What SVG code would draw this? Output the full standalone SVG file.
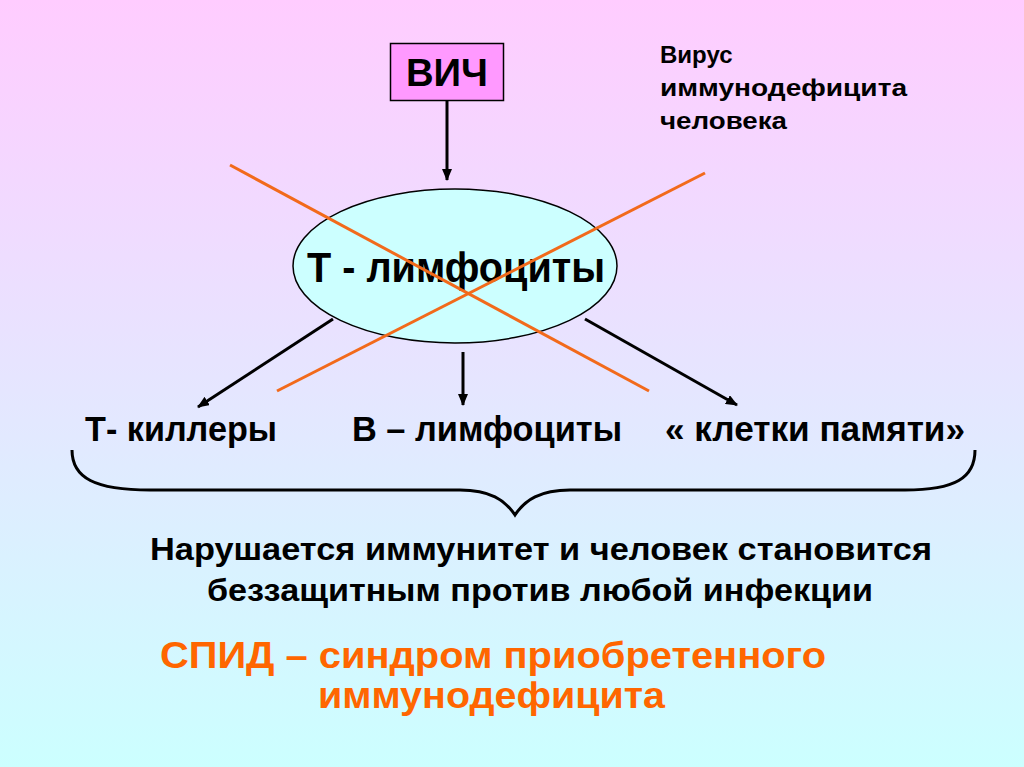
<svg xmlns="http://www.w3.org/2000/svg" width="1024" height="767" viewBox="0 0 1024 767">
<defs>
<linearGradient id="bg" x1="0" y1="0" x2="0" y2="1">
<stop offset="0" stop-color="#FFCCFF"/>
<stop offset="1" stop-color="#CCFFFF"/>
</linearGradient>
<marker id="ah" viewBox="0 0 12 10" refX="11" refY="5" markerWidth="12" markerHeight="10" markerUnits="userSpaceOnUse" orient="auto">
<path d="M0,0 L12,5 L0,10 Z" fill="#000"/>
</marker>
<style>
.t{font-family:"Liberation Sans",Arial,sans-serif;font-weight:bold;fill:#000}
.o{fill:#FF6600}
.c{stroke:#000;stroke-width:3;fill:none}
.x{stroke:#F26A1B;stroke-width:3;fill:none}
</style>
</defs>
<rect width="1024" height="767" fill="url(#bg)"/>
<g id="connectors">
<line class="c" x1="447" y1="100" x2="447" y2="180" marker-end="url(#ah)"/>
<line class="c" x1="333" y1="319" x2="198" y2="407" marker-end="url(#ah)"/>
<line class="c" x1="463" y1="352" x2="463" y2="405" marker-end="url(#ah)"/>
<line class="c" x1="585" y1="319" x2="737" y2="405" marker-end="url(#ah)"/>
</g>
<g id="hiv">
<rect x="390.5" y="43.5" width="113" height="57" fill="#FF99FF" stroke="#000" stroke-width="1.5"/>
<text class="t" x="447" y="86" font-size="38" text-anchor="middle" textLength="82" lengthAdjust="spacingAndGlyphs">ВИЧ</text>
</g>
<g id="hiv-note">
<text class="t" x="660" y="63" font-size="24">Вирус</text>
<text class="t" x="660" y="96" font-size="24" textLength="247" lengthAdjust="spacingAndGlyphs">иммунодефицита</text>
<text class="t" x="660" y="129" font-size="24" textLength="127" lengthAdjust="spacingAndGlyphs">человека</text>
</g>
<g id="t-lymph">
<ellipse cx="455" cy="266" rx="162" ry="77" fill="#CCFFFF" stroke="#000" stroke-width="1.5"/>
<text class="t" x="456" y="282" font-size="42" text-anchor="middle" textLength="298" lengthAdjust="spacingAndGlyphs">Т - лимфоциты</text>
</g>
<g id="cross">
<line class="x" x1="230" y1="165" x2="649" y2="391"/>
<line class="x" x1="277" y1="391" x2="705" y2="173"/>
</g>
<g id="killers">
<text class="t" x="85" y="441" font-size="35" textLength="192" lengthAdjust="spacingAndGlyphs">Т- киллеры</text>
</g>
<g id="b-lymph">
<text class="t" x="352" y="441" font-size="35" textLength="270" lengthAdjust="spacingAndGlyphs">В – лимфоциты</text>
</g>
<g id="memory">
<text class="t" x="665" y="441" font-size="35" textLength="300" lengthAdjust="spacingAndGlyphs">« клетки памяти»</text>
</g>
<g id="brace">
<path class="c" d="M72,450 C72,478 95,490 150,490 L460,490 C490,490 505,500 515,515 C525,500 540,490 570,490 L905,490 C955,490 975,478 975,450"/>
</g>
<g id="result">
<text class="t" x="541" y="560" font-size="32" text-anchor="middle" textLength="782" lengthAdjust="spacingAndGlyphs">Нарушается иммунитет и человек становится</text>
<text class="t" x="540" y="601" font-size="32" text-anchor="middle" textLength="666" lengthAdjust="spacingAndGlyphs">беззащитным против любой инфекции</text>
</g>
<g id="aids">
<text class="t o" x="160" y="668" font-size="36" textLength="666" lengthAdjust="spacingAndGlyphs">СПИД – синдром приобретенного</text>
<text class="t o" x="318" y="708" font-size="36" textLength="347" lengthAdjust="spacingAndGlyphs">иммунодефицита</text>
</g>
</svg>
